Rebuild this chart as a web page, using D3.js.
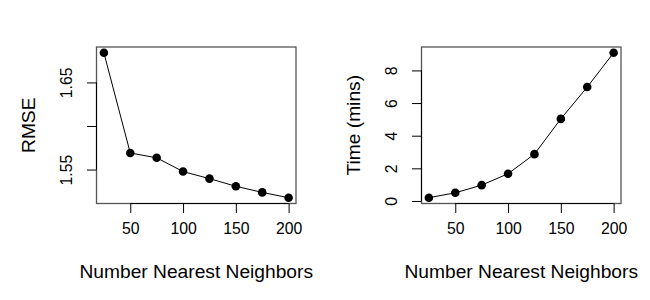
<!DOCTYPE html>
<html>
<head>
<meta charset="utf-8">
<script src="https://cdn.jsdelivr.net/npm/d3@7"></script>
<style>
  body { margin: 0; background: #fff; }
  text { font-family: "Liberation Sans", Arial, sans-serif; fill: #000; }
</style>
</head>
<body>
<svg id="chart" width="650" height="300"></svg>
<script>
// neighbours tried
let neighbors = [25, 50, 75, 100, 125, 150, 175, 200];
// error for each neighbour count
let rmse = [1.684, 1.569, 1.5635, 1.5477, 1.5396, 1.5308, 1.5238, 1.5177];
// running time in minutes
let minutes = [0.2, 0.5, 0.97, 1.67, 2.87, 5.03, 6.98, 9.08];

let xTicks = [50, 100, 150, 200];
let rmseTicks = [1.55, 1.60, 1.65];
let rmseTickLabels = ["1.55", "", "1.65"];
let minuteTicks = [0, 2, 4, 6, 8];
let minuteTickLabels = ["0", "2", "4", "6", "8"];

let svg = d3.select("#chart");

let plotTop = 47, plotBottom = 203.5;
let tickLen = 9.5;
let tickFont = "15.8px", labelFont = "19.2px";

// R style padding: 4% of range on each side
function padded(values) {
    let ext = d3.extent(values);
    let pad = (ext[1] - ext[0]) * 0.04;
    return [ext[0] - pad, ext[1] + pad];
}

function drawPanel(left, right, yValues, yTicks, yTickLabels, yTitle) {
    let x = d3.scaleLinear().domain(padded(neighbors)).range([left, right]);
    let y = d3.scaleLinear().domain(padded(yValues)).range([plotBottom, plotTop]);

    let g = svg.append("g");

    // plot box
    g.append("rect")
        .attr("x", left).attr("y", plotTop)
        .attr("width", right - left).attr("height", plotBottom - plotTop)
        .attr("fill", "none")
        .attr("stroke", "#555")
        .attr("stroke-width", 1.3);

    // x axis
    let xAxis = d3.axisBottom(x)
        .tickValues(xTicks)
        .tickSize(tickLen)
        .tickPadding(6)
        .tickSizeOuter(0);
    let gx = g.append("g")
        .attr("transform", "translate(0," + plotBottom + ")")
        .call(xAxis);
    gx.select(".domain")
        .attr("d", "M" + x(xTicks[0]) + ",0H" + x(xTicks[xTicks.length - 1]));

    // y axis
    let yAxis = d3.axisLeft(y)
        .tickValues(yTicks)
        .tickSize(tickLen)
        .tickSizeOuter(0)
        .tickFormat((d, i) => yTickLabels[i]);
    let gy = g.append("g")
        .attr("transform", "translate(" + left + ",0)")
        .call(yAxis);
    gy.select(".domain")
        .attr("d", "M0," + y(yTicks[0]) + "V" + y(yTicks[yTicks.length - 1]));
    gy.selectAll(".tick text")
        .attr("x", null).attr("dy", null)
        .attr("text-anchor", "middle")
        .attr("transform", "translate(-25,0) rotate(-90)");

    [gx, gy].forEach(a => {
        a.selectAll("path, line").attr("stroke", "#000").attr("stroke-width", 1);
        a.selectAll("text").style("font-size", tickFont).attr("fill", "#000");
    });
    gx.selectAll(".tick text").attr("dy", "0.92em");

    // line and points
    let line = d3.line()
        .x((d, i) => x(neighbors[i]))
        .y(d => y(d));
    g.append("path")
        .datum(yValues)
        .attr("fill", "none")
        .attr("stroke", "#000")
        .attr("stroke-width", 1)
        .attr("d", line);

    g.selectAll(".pt")
        .data(yValues)
        .enter()
        .append("circle")
        .attr("class", "pt")
        .attr("cx", (d, i) => x(neighbors[i]))
        .attr("cy", d => y(d))
        .attr("r", 4.3)
        .attr("fill", "#000");

    // axis titles
    g.append("text")
        .attr("x", (left + right) / 2)
        .attr("y", plotBottom + 74.5)
        .attr("text-anchor", "middle")
        .style("font-size", labelFont)
        .text("Number Nearest Neighbors");

    g.append("text")
        .attr("transform", "translate(" + (left - 61.5) + "," + ((plotTop + plotBottom) / 2) + ") rotate(-90)")
        .attr("text-anchor", "middle")
        .style("font-size", labelFont)
        .text(yTitle);
}

drawPanel(96.5, 296, rmse, rmseTicks, rmseTickLabels, "RMSE");
drawPanel(421.5, 621, minutes, minuteTicks, minuteTickLabels, "Time (mins)");
</script>
</body>
</html>
